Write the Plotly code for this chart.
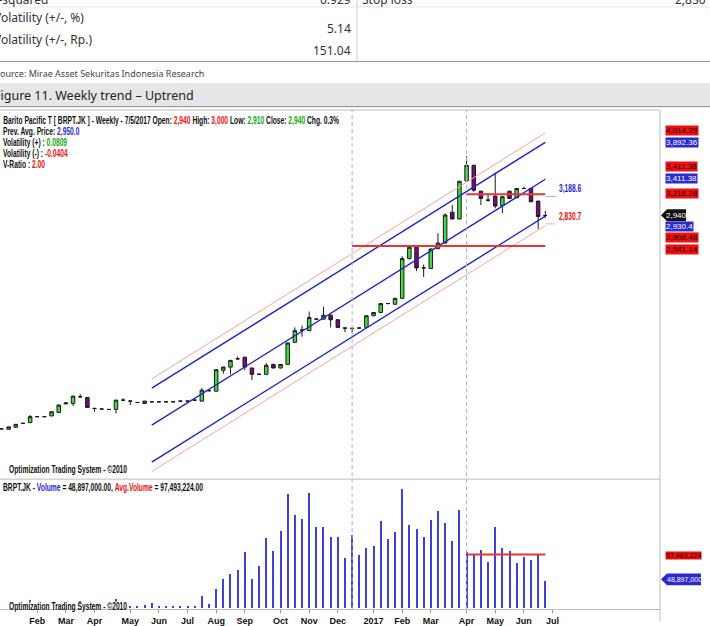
import plotly.graph_objects as go

W, H = 710, 626

# ---------------- data ----------------
weeks = list(range(77))
opens = [163, 158, 184, 235, 244, 322, 322, 331, 377, 488, 494, 580, 571, 429, 421, 416, 416, 537, 524, 506,
         494, 515, 515, 515, 515, 524, 524, 537, 524, 660, 654, 925, 967, 1075, 1096, 955, 873, 873, 1002, 955,
         1002, 1290, 1449, 1441, 1591, 1591, 1643, 1583, 1475, 1471, 1475, 1484, 1635, 1678, 1794, 1785, 1862, 2378, 2539, 2258,
         2250, 2508, 2581, 2981, 2895, 3391, 3592, 3256, 3140, 3192, 3071, 3256, 3171, 3291, 3291, 3127, 2940]
closes = [163, 189, 222, 235, 322, 322, 322, 386, 473, 500, 589, 580, 442, 429, 421, 416, 537, 537, 524, 506,
          524, 515, 515, 515, 515, 524, 524, 537, 667, 660, 933, 967, 1054, 1075, 967, 873, 873, 990, 955, 1002,
          1281, 1441, 1449, 1613, 1591, 1643, 1583, 1484, 1475, 1471, 1475, 1635, 1677, 1794, 1794, 1862, 2378, 2526, 2258, 2258,
          2504, 2581, 2946, 2895, 3385, 3592, 3269, 3162, 3140, 3063, 3184, 3162, 3291, 3291, 3119, 2926, 2940]
highs = [165, 192, 225, 240, 344, 325, 325, 390, 478, 505, 595, 615, 575, 432, 424, 419, 540, 558, 530, 510,
         528, 518, 518, 518, 518, 527, 527, 540, 696, 670, 940, 972, 1060, 1105, 1100, 960, 878, 1019, 1010, 1006,
         1285, 1484, 1506, 1690, 1600, 1751, 1650, 1590, 1480, 1476, 1480, 1640, 1685, 1800, 1800, 1868, 2409, 2530, 2545, 2301,
         2510, 2710, 2968, 3076, 3390, 3713, 3600, 3262, 3227, 3498, 3190, 3262, 3296, 3313, 3296, 3133, 3000]
lows = [160, 155, 180, 230, 240, 318, 318, 328, 372, 484, 460, 570, 440, 386, 418, 413, 364, 530, 473, 502,
        490, 512, 512, 512, 512, 520, 520, 533, 520, 650, 650, 881, 873, 1060, 925, 796, 868, 868, 950, 950,
        998, 1286, 1364, 1436, 1580, 1586, 1484, 1480, 1419, 1419, 1470, 1480, 1630, 1672, 1785, 1780, 1858, 2372, 2216, 2138,
        2245, 2503, 2576, 2890, 2890, 3386, 3249, 3076, 3119, 3033, 2968, 3155, 3166, 3286, 3115, 2762, 2910]
volumes_m = [0, 0, 0, 0, 14.0, 0, 0, 0, 0, 0, 0, 13.0, 0, 0, 0, 0, 15.6, 2.0, 3.6, 2.4,
             5.4, 9.5, 3.6, 3.6, 3.6, 3.6, 3.6, 3.6, 21.6, 6.7, 33.7, 52.7, 61.7, 69.5, 101.3, 52.7, 76.1, 127.8, 103.1, 140.3,
             206.3, 169.2, 162.0, 208.7, 146.5, 146.5, 129.0, 129.6, 90.5, 133.2, 96.6, 108.0, 112.1, 158.4, 125.5, 137.3, 216.5, 151.2, 143.5, 128.3,
             160.2, 175.1, 154.8, 121.3, 177.5, 101.3, 95.4, 104.4, 83.3, 147.6, 109.1, 103.1, 81.5, 92.3, 87.5, 95.4, 48.897]
volumes = [v * 1e6 for v in volumes_m]

month_ticks = [5, 9, 13, 18, 22, 26, 30, 34, 39, 43, 47, 52, 56, 60, 65, 69, 73, 77]
month_labels = ["Feb", "Mar", "Apr", "May", "Jun", "Jul", "Aug", "Sep", "Oct", "Nov", "Dec",
                "2017", "Feb", "Mar", "Apr", "May", "Jun", "Jul"]

channel_weeks = [21, 76]
channel_upper2 = [813.9, 4014.29]
channel_upper1 = [692.0, 3892.36]
channel_mid = [211.0, 3411.38]
channel_lower1 = [-270.0, 2930.40]
channel_lower2 = [-392.0, 2808.48]

support_weeks = [49, 76]
support_level = 2541.14
resist_weeks = [65, 76]
resist_level = 3216.28
marker_weeks = [49, 65]
vol_plus_level = 3188.6
vol_minus_level = 2830.7
avg_volume = 97493224
last_volume = 48897000
last_close = 2940

# ---------------- helpers ----------------
def X(px):
    return px / W

def Y(py):
    return 1 - py / H

FONT = "Liberation Sans Narrow, Liberation Sans, Arial, sans-serif"   # condensed via post script
TAGF = "Arial, Helvetica, sans-serif"
TFONT = "Noto Sans, Open Sans, sans-serif"
RED = "#ee1111"
BLUE = "#2a2ad0"
GREEN = "#11aa11"

price_top, price_bot = 111, 483
vol_top, vol_bot = 485, 614
xr = [-0.21, 92.03]
yr_price = [-491.3, 4311.2]
yr_vol = [-1.8e6, 230.4e6]

fig = go.Figure()

fig.add_trace(go.Candlestick(
    x=weeks, open=opens, high=highs, low=lows, close=closes,
    increasing=dict(line=dict(color="#1a1a1a", width=1), fillcolor="#3ddc3d"),
    decreasing=dict(line=dict(color="#1a1a1a", width=1), fillcolor="#7a0a7a"),
    whiskerwidth=0, showlegend=False, hoverinfo="skip", xaxis="x", yaxis="y"))

for ys, col, w in [(channel_upper2, "#ff9f9f", 1), (channel_upper1, "#2323c8", 1.4),
                   (channel_mid, "#2323c8", 1.4), (channel_lower1, "#2323c8", 1.4),
                   (channel_lower2, "#ff9f9f", 1)]:
    fig.add_trace(go.Scatter(x=channel_weeks, y=ys, mode="lines", line=dict(color=col, width=w),
                             showlegend=False, hoverinfo="skip", xaxis="x", yaxis="y"))

fig.add_trace(go.Scatter(x=support_weeks, y=[support_level] * 2, mode="lines",
                         line=dict(color="#ee3333", width=2), showlegend=False, xaxis="x", yaxis="y"))
fig.add_trace(go.Scatter(x=resist_weeks, y=[resist_level] * 2, mode="lines",
                         line=dict(color="#ee3333", width=2), showlegend=False, xaxis="x", yaxis="y"))
fig.add_trace(go.Scatter(x=[76, 77.6], y=[vol_plus_level] * 2, mode="lines",
                         line=dict(color="#b0b0f0", width=1), showlegend=False, xaxis="x", yaxis="y"))
fig.add_trace(go.Scatter(x=[76, 77.4], y=[vol_minus_level] * 2, mode="lines",
                         line=dict(color="#ffb0b0", width=1), showlegend=False, xaxis="x", yaxis="y"))

fig.add_trace(go.Bar(x=weeks, y=volumes, width=0.28, marker=dict(color="#4040d4", line=dict(width=0)),
                     showlegend=False, hoverinfo="skip", xaxis="x2", yaxis="y2"))
fig.add_trace(go.Scatter(x=[65, 76], y=[avg_volume] * 2, mode="lines",
                         line=dict(color="#ee3333", width=2), showlegend=False, xaxis="x2", yaxis="y2"))

shapes = []
# table region
shapes.append(dict(type="line", xref="paper", yref="paper", x0=X(357), x1=X(357), y0=Y(0), y1=Y(62),
                   line=dict(color="#cccccc", width=1)))
shapes.append(dict(type="line", xref="paper", yref="paper", x0=0, x1=1, y0=Y(62), y1=Y(62),
                   line=dict(color="#9a9a9a", width=1)))
shapes.append(dict(type="line", xref="paper", yref="paper", x0=0, x1=1, y0=Y(7), y1=Y(7),
                   line=dict(color="#e4e4e4", width=1)))
# figure title bar
shapes.append(dict(type="rect", xref="paper", yref="paper", x0=0, x1=1, y0=Y(107), y1=Y(84),
                   fillcolor="#e6e6e6", line=dict(width=0)))
shapes.append(dict(type="line", xref="paper", yref="paper", x0=0, x1=1, y0=Y(107.5), y1=Y(107.5),
                   line=dict(color="#8a8a8a", width=1)))
# panel borders
for yy in (price_top, price_bot):
    shapes.append(dict(type="line", xref="paper", yref="paper", x0=0, x1=X(660), y0=Y(yy), y1=Y(yy),
                       line=dict(color="#bdbdbd", width=1)))
shapes.append(dict(type="line", xref="paper", yref="paper", x0=X(660), x1=X(660), y0=Y(price_top), y1=Y(626),
                   line=dict(color="#bdbdbd", width=1)))
# dashed markers
for wk in marker_weeks:
    shapes.append(dict(type="line", xref="x", yref="paper", x0=wk, x1=wk, y0=Y(vol_bot), y1=Y(price_top),
                       line=dict(color="#a8a8f0", width=1, dash="4px,3px")))
# white backing behind the volume-panel watermark
shapes.append(dict(type="rect", xref="paper", yref="paper", x0=X(6), x1=X(127), y0=Y(613.5), y1=Y(606.5),
                   fillcolor="white", line=dict(width=0), layer="above"))
# last close tag arrow
shapes.append(dict(type="path", xref="paper", yref="paper",
                   path=f"M {X(661)} {Y(217)} L {X(667)} {Y(211)} L {X(686)} {Y(211)} L {X(686)} {Y(223)} L {X(667)} {Y(223)} Z",
                   fillcolor="#111111", line=dict(width=0)))
shapes.append(dict(type="path", xref="paper", yref="paper",
                   path=f"M {X(661)} {Y(584)} L {X(667)} {Y(578)} L {X(701)} {Y(578)} L {X(701)} {Y(590)} L {X(667)} {Y(590)} Z",
                   fillcolor=BLUE, line=dict(width=0)))

ann = []

def text(x, y, s, size=10, color="#111", xanchor="left", family=FONT, bg=None):
    d = dict(x=X(x), y=Y(y), xref="paper", yref="paper", text=s, showarrow=False, xanchor=xanchor,
             yanchor="middle", font=dict(family=family, size=size, color=color), borderpad=0)
    if bg:
        d["bgcolor"] = bg
    ann.append(d)

# table text
text(-10, -1, "R-squared", 12, "#333", family=TFONT)
text(352, -1, "0.929", 12, "#333", "right", TFONT)
text(361, -1, "Stop loss", 12, "#333", family=TFONT)
text(707, -1, "2,830", 12, "#333", "right", TFONT)
text(-7, 18, "Volatility (+/-, %)", 12, "#333", family=TFONT)
text(352, 29, "5.14", 12, "#333", "right", TFONT)
text(-7, 40, "Volatility (+/-, Rp.)", 12, "#333", family=TFONT)
text(352, 51, "151.04", 12, "#333", "right", TFONT)
text(-6, 74, "Source: Mirae Asset Sekuritas Indonesia Research", 9, "#444", family=TFONT)
text(-7, 96, "Figure 11. Weekly trend \u2013 Uptrend", 12.5, "#222", family=TFONT)

# chart header
def col(s, c):
    return f"<span style='color:{c}'>{s}</span>"

text(2, 121, "<b>Barito Pacific T [ BRPT.JK ] - Weekly - 7/5/2017 Open: " + col("2,940", RED) + " High: "
     + col("3,000", RED) + " Low: " + col("2,910", GREEN) + " Close: " + col("2,940", GREEN) + " Chg. 0.3%</b>")
text(2, 133, "<b>Prev. Avg. Price: " + col("2,950.0", BLUE) + "</b>")
text(2, 144, "<b>Volatility (+) : " + col("0.0809", GREEN) + "</b>")
text(2, 155, "<b>Volatility (-) : " + col("-0.0404", RED) + "</b>")
text(2, 166, "<b>V-Ratio : " + col("2.00", RED) + "</b>")
text(8, 473, "<b>Optimization Trading System - \u00a92010</b>")
text(2, 491, "<b>BRPT.JK - " + col("Volume", BLUE) + " = 48,897,000.00, " + col("Avg.Volume", RED)
     + " = 97,493,224.00</b>")
text(8, 611, "<b>Optimization Trading System - \u00a92010</b>")

ann.append(dict(x=77.6, y=vol_plus_level, xref="x", yref="y", text="<b>3,188.6</b>", showarrow=False,
                xanchor="left", yanchor="bottom", font=dict(family=FONT, size=10, color=BLUE)))
ann.append(dict(x=77.6, y=vol_minus_level, xref="x", yref="y", text="<b>2,830.7</b>", showarrow=False,
                xanchor="left", yanchor="bottom", font=dict(family=FONT, size=10, color=RED)))

# right side value tags
right_tags = [("4,014.29", RED, "#220000", 131.7), ("3,892.36", BLUE, "white", 143.3),
              ("3,411.38", RED, "#220000", 168.3), ("3,411.38", BLUE, "white", 180.3),
              ("3,216.28", RED, "#220000", 195.3), ("2,930.4", BLUE, "white", 228.3),
              ("2,808.48", RED, "#220000", 239.3), ("2,541.14", RED, "#220000", 251.3)]
for s, bg, fg, yy in right_tags:
    text(665, yy, s, 8, fg, family=TAGF, bg=bg)
text(665, 559.5, "97,493,224", 7, "#220000", family=TAGF, bg=RED)
text(676.5, 217, "2,940", 8, "white", "center", TAGF)
text(684, 584, "48,897,000", 7, "white", "center", TAGF)

fig.update_layout(
    width=W, height=H, margin=dict(l=0, r=0, t=0, b=0),
    paper_bgcolor="white", plot_bgcolor="white",
    showlegend=False, bargap=0,
    xaxis=dict(domain=[0, X(660)], range=xr, anchor="y", showticklabels=False, showgrid=False,
               zeroline=False, showline=False, ticks="", rangeslider=dict(visible=False)),
    yaxis=dict(domain=[Y(price_bot), Y(price_top)], range=yr_price, anchor="x", showticklabels=False,
               showgrid=False, zeroline=False, showline=False, ticks=""),
    xaxis2=dict(domain=[0, X(660)], range=xr, anchor="y2", tickmode="array", tickvals=month_ticks,
                ticktext=month_labels, ticks="outside", ticklen=3, tickcolor="#999",
                tickfont=dict(family=TAGF, size=9, color="#111", weight="bold"),
                showgrid=False, zeroline=False, showline=True, linecolor="#bdbdbd", linewidth=1),
    yaxis2=dict(domain=[Y(vol_bot), Y(vol_top)], range=yr_vol, anchor="x2", showticklabels=False,
                showgrid=False, zeroline=False, showline=False, ticks=""),
    shapes=shapes, annotations=ann,
)

# the chart's narrow typeface is not installed: condense those annotation texts horizontally
post = """
var gd = document.getElementById('{plot_id}');
gd.querySelectorAll('g.annotation text').forEach(function(t){
  var ff = t.style.fontFamily || '';
  if (ff.indexOf('Narrow') === -1) return;
  var b = t.getBBox();
  var x0 = b.x;
  var prev = t.getAttribute('transform') || '';
  t.setAttribute('transform', prev + ' translate(' + x0 + ',0) scale(0.67,1) translate(' + (-x0) + ',0)');
});
"""

fig.write_html("out.html", post_script=post)
